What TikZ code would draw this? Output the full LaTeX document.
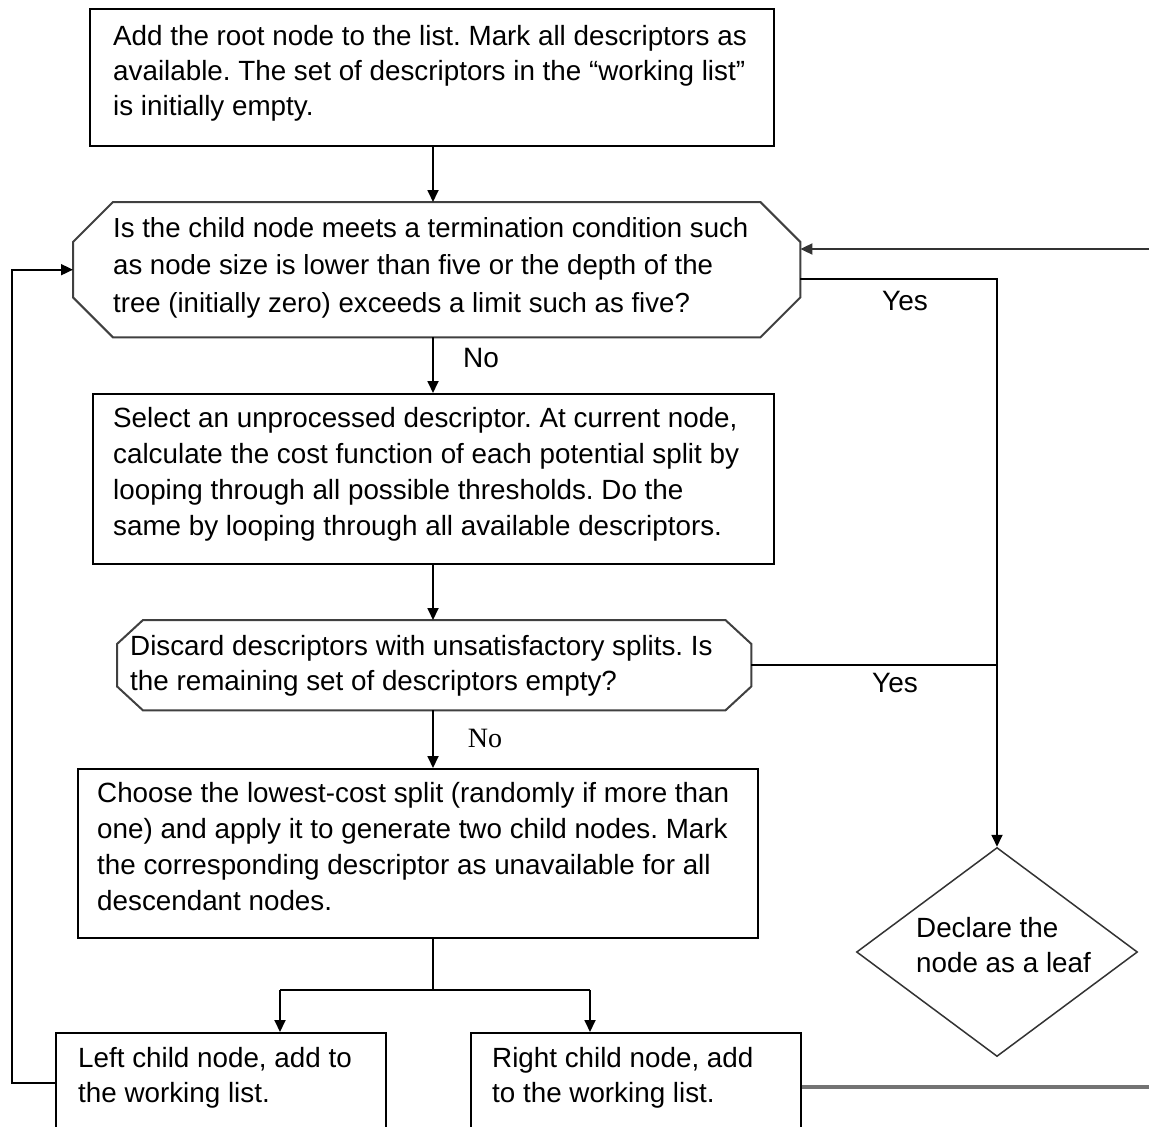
\documentclass[tikz,border=0pt]{standalone}
\usepackage{fontspec}
\setmainfont{Liberation Sans}
\newfontfamily\serifno{Liberation Serif}
\usetikzlibrary{arrows.meta,calc,shapes.geometric}

\newcommand\decoct[3]{%
  \draw[decline] ($(#1.north west)+(#2,0)$) -- ($(#1.north east)+(-#2,0)$)
    -- ($(#1.north east)+(0,#3)$) -- ($(#1.south east)+(0,-#3)$)
    -- ($(#1.south east)+(-#2,0)$) -- ($(#1.south west)+(#2,0)$)
    -- ($(#1.south west)+(0,-#3)$) -- ($(#1.north west)+(0,#3)$) -- cycle;}

\begin{document}
\frenchspacing
\begin{tikzpicture}[x=1pt,y=-1pt,
  frame/.style={draw=black, line width=1.8pt, inner sep=0pt, anchor=north west},
  decbox/.style={inner sep=0pt, anchor=north west},
  decline/.style={draw=black!75, line width=2pt, line join=miter},
  txt/.style={anchor=north west, inner sep=0pt, align=left},
  lbl/.style={inner sep=0pt, anchor=center, font=\fontsize{28}{34}\selectfont},
  conn/.style={line width=1.8pt, draw=black},
  arr/.style={conn, -{Triangle[length=12pt,width=11pt]}},
]
\useasboundingbox (0,0) rectangle (1149,1127);
\fill[white] (0,0) rectangle (1149,1127);
\clip (0,0) rectangle (1149,1127);

% boxes
\node[frame, minimum width=684pt, minimum height=137pt] (b1) at (89,8) {};
\node[decbox, minimum width=727pt, minimum height=135pt] (d1) at (73,202) {};
\decoct{d1}{40}{40}
\node[frame, minimum width=681pt, minimum height=170pt] (b2) at (92,393) {};
\node[decbox, minimum width=634pt, minimum height=90pt] (d2) at (117,620) {};
\decoct{d2}{26}{24}
\node[frame, minimum width=680pt, minimum height=169pt] (b3) at (77,768) {};
\node[frame, minimum width=330pt, minimum height=130pt] (lc) at (55,1032) {};
\node[frame, minimum width=330pt, minimum height=130pt] (rc) at (470,1032) {};
\node[diamond, draw=black!80, line width=1.5pt, inner sep=0pt,
      minimum width=281pt, minimum height=209pt] (leaf) at (997,952) {};

% texts
\node[txt, font=\fontsize{27.8}{35}\selectfont] (t1) at (113,25)
  {Add the root node to the list. Mark all descriptors as\\
   available. The set of descriptors in the “working list”\\
   is initially empty.};
\node[txt, font=\fontsize{27.6}{37.5}\selectfont] (t2) at (113,217)
  {Is the child node meets a termination condition such\\
   as node size is lower than five or the depth of the\\
   tree (initially zero) exceeds a limit such as five?};
\node[txt, font=\fontsize{27.8}{36}\selectfont] (t3) at (113,407)
  {Select an unprocessed descriptor. At current node,\\
   calculate the cost function of each potential split by\\
   looping through all possible thresholds. Do the\\
   same by looping through all available descriptors.};
\node[txt, font=\fontsize{27.8}{35}\selectfont] (t4) at (130,635)
  {Discard descriptors with unsatisfactory splits. Is\\
   the remaining set of descriptors empty?};
\node[txt, font=\fontsize{27.8}{36}\selectfont] (t5) at (97,782)
  {Choose the lowest-cost split (randomly if more than\\
   one) and apply it to generate two child nodes. Mark\\
   the corresponding descriptor as unavailable for all\\
   descendant nodes.};
\node[txt, font=\fontsize{27.8}{35}\selectfont] (t6) at (78,1047)
  {Left child node, add to\\ the working list.};
\node[txt, font=\fontsize{27.8}{35}\selectfont] (t7) at (492,1047)
  {Right child node, add\\ to the working list.};
\node[txt, font=\fontsize{27.8}{35}\selectfont] (t8) at (916,917)
  {Declare the\\ node as a leaf};

% labels
\node[lbl] (y1) at (905,301) {Yes};
\node[lbl] (y2) at (895,683) {Yes};
\node[lbl] (n1) at (481,358) {No};
\node[lbl, font=\serifno\fontsize{28}{34}\selectfont] (n2) at (485,738) {No};

% helper coordinates
\coordinate (cx) at (433,0);
\coordinate (split) at (433,990);
\coordinate (la) at (280,990);
\coordinate (ra) at (590,990);
\coordinate (ll) at (12,1083);
\coordinate (yx) at (997,279);
\coordinate (rl) at (1170,1087);
\coordinate (rt) at (1170,249);

% connectors
\draw[arr] (b1.south -| cx) -- (d1.north -| cx);
\draw[arr] (d1.south -| cx) -- (b2.north -| cx);
\draw[arr] (b2.south -| cx) -- (d2.north -| cx);
\draw[arr] (d2.south -| cx) -- (b3.north -| cx);
\draw[conn] (b3.south -| cx) -- (split);
\draw[conn] (la) -- (ra);
\draw[arr] (la) -- (la |- lc.north);
\draw[arr] (ra) -- (ra |- rc.north);
\draw[arr] (lc.west |- ll) -- (ll) |- (d1.west);
\draw[arr] (d1.east |- yx) -- (yx) -- (leaf.north);
\draw[conn] (d2.east) -- (d2.east -| yx);
\draw[line width=3.5pt, draw=black!55] (rc.east |- rl) -- (rl);
\draw[arr, draw=black!80] (rl) -- (rt) -- (d1.east |- rt);
\end{tikzpicture}
\end{document}
